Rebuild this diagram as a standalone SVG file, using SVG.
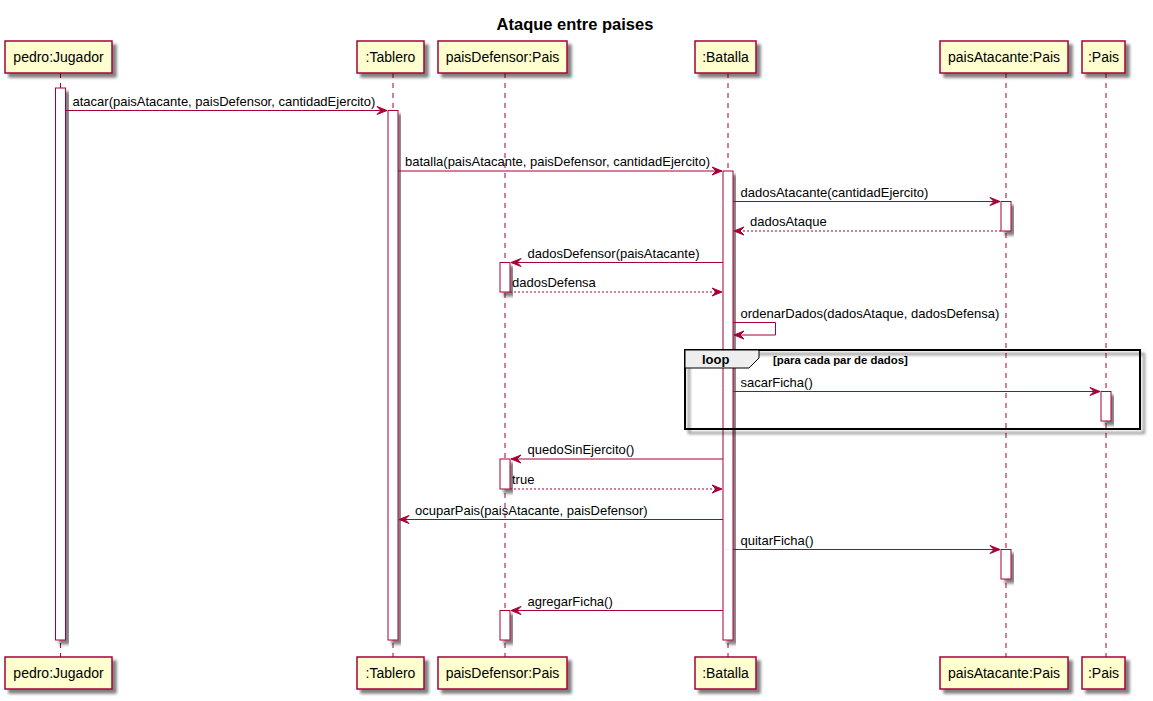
<svg xmlns="http://www.w3.org/2000/svg" width="1153" height="701" viewBox="0 0 1153 701">
<defs>
<filter id="sh" x="-30%" y="-30%" width="160%" height="160%">
<feGaussianBlur in="SourceAlpha" stdDeviation="1.8" result="b"/>
<feOffset in="b" dx="4" dy="4" result="o"/>
<feComponentTransfer in="o" result="s"><feFuncA type="linear" slope="0.5"/></feComponentTransfer>
<feMerge><feMergeNode in="s"/><feMergeNode in="SourceGraphic"/></feMerge>
</filter>
<marker id="arr" markerUnits="userSpaceOnUse" markerWidth="11" markerHeight="9" refX="10" refY="4" orient="auto" overflow="visible">
<path d="M0,0 L10,4 L0,8 L4,4 Z" fill="#A80036" stroke="#A80036" stroke-width="1"/>
</marker>
<style>
.box{fill:#FEFECE;stroke:#A80036;stroke-width:1.5;filter:url(#sh)}
.life{stroke:#A80036;stroke-width:1;stroke-dasharray:5,5;fill:none}
.act{fill:#FFFFFF;stroke:#A80036;stroke-width:1;filter:url(#sh)}
.pt{font-family:"Liberation Sans",Arial,sans-serif;font-size:14px;fill:#000;text-anchor:middle}
.msg{stroke:#A80036;stroke-width:1;fill:none;marker-end:url(#arr)}
.ret{stroke:#A80036;stroke-width:1;fill:none;stroke-dasharray:2,2;marker-end:url(#arr)}
.lbl{font-family:"Liberation Sans",Arial,sans-serif;font-size:13px;fill:#000}
.title{font-family:"Liberation Sans",Arial,sans-serif;font-size:16.5px;font-weight:bold;fill:#000;text-anchor:middle}
</style>
</defs>
<rect width="1153" height="701" fill="#FFFFFF"/>
<text class="title" x="575" y="30">Ataque entre paises</text>

<g id="pedro">
<line class="life" x1="60.5" y1="73" x2="60.5" y2="657"/>
<rect class="box" x="5" y="41" width="107" height="32"/>
<text class="pt" x="58.5" y="62">pedro:Jugador</text>
<rect class="box" x="5" y="657" width="107" height="32"/>
<text class="pt" x="58.5" y="678">pedro:Jugador</text>
<rect class="act" x="55.5" y="88" width="10" height="552"/>
</g>

<g id="tablero">
<line class="life" x1="393" y1="73" x2="393" y2="657"/>
<rect class="box" x="357" y="41" width="67" height="32"/>
<text class="pt" x="390.5" y="62">:Tablero</text>
<rect class="box" x="357" y="657" width="67" height="32"/>
<text class="pt" x="390.5" y="678">:Tablero</text>
<rect class="act" x="388" y="110.5" width="10" height="529.5"/>
</g>

<g id="paisDefensor">
<line class="life" x1="505" y1="73" x2="505" y2="657"/>
<rect class="box" x="438" y="41" width="129" height="32"/>
<text class="pt" x="502.5" y="62">paisDefensor:Pais</text>
<rect class="box" x="438" y="657" width="129" height="32"/>
<text class="pt" x="502.5" y="678">paisDefensor:Pais</text>
<rect class="act" x="500" y="262.5" width="10" height="29.5"/>
<rect class="act" x="500" y="459" width="10" height="30"/>
<rect class="act" x="500" y="610.5" width="10" height="29.5"/>
</g>

<g id="batalla">
<line class="life" x1="728" y1="73" x2="728" y2="657"/>
<rect class="box" x="695" y="41" width="61" height="32"/>
<text class="pt" x="725.5" y="62">:Batalla</text>
<rect class="box" x="695" y="657" width="61" height="32"/>
<text class="pt" x="725.5" y="678">:Batalla</text>
<rect class="act" x="723" y="171" width="10" height="469"/>
</g>

<g id="paisAtacante">
<line class="life" x1="1006" y1="73" x2="1006" y2="657"/>
<rect class="box" x="940" y="41" width="128" height="32"/>
<text class="pt" x="1004" y="62">paisAtacante:Pais</text>
<rect class="box" x="940" y="657" width="128" height="32"/>
<text class="pt" x="1004" y="678">paisAtacante:Pais</text>
<rect class="act" x="1001" y="201.5" width="10" height="29.5"/>
<rect class="act" x="1001" y="549.5" width="10" height="29.5"/>
</g>

<g id="pais">
<line class="life" x1="1106" y1="73" x2="1106" y2="657"/>
<rect class="box" x="1082" y="41" width="43" height="32"/>
<text class="pt" x="1103.5" y="62">:Pais</text>
<rect class="box" x="1082" y="657" width="43" height="32"/>
<text class="pt" x="1103.5" y="678">:Pais</text>
<rect class="act" x="1101" y="391.5" width="10" height="29.5"/>
</g>

<g id="loop">
<rect x="685" y="350" width="455" height="79" fill="none" stroke="#000000" stroke-width="2" filter="url(#sh)"/>
<polygon points="685,350 759,350 759,358 749,368 685,368" fill="#EEEEEE" stroke="#000000" stroke-width="1"/>
<text x="702" y="364" font-family="Liberation Sans, Arial, sans-serif" font-size="13" font-weight="bold">loop</text>
<text x="773" y="364" font-family="Liberation Sans, Arial, sans-serif" font-size="11.4" font-weight="bold">[para cada par de dados]</text>
</g>

<g id="connectors">
<line class="msg" x1="65.5" y1="110.5" x2="387" y2="110.5"/>
<text class="lbl" x="72.5" y="105.5">atacar(paisAtacante, paisDefensor, cantidadEjercito)</text>

<line class="msg" x1="398" y1="171" x2="722" y2="171"/>
<text class="lbl" x="405" y="166">batalla(paisAtacante, paisDefensor, cantidadEjercito)</text>

<line class="msg" x1="733" y1="201.5" x2="1000" y2="201.5"/>
<text class="lbl" x="740.5" y="196.5">dadosAtacante(cantidadEjercito)</text>

<line class="ret" x1="1001" y1="231" x2="734" y2="231"/>
<text class="lbl" x="750" y="226">dadosAtaque</text>

<line class="msg" x1="723" y1="262.5" x2="511" y2="262.5"/>
<text class="lbl" x="527.5" y="257.5">dadosDefensor(paisAtacante)</text>

<line class="ret" x1="510" y1="292" x2="722" y2="292"/>
<text class="lbl" x="512" y="287">dadosDefensa</text>

<polyline class="msg" points="733,322.5 775.5,322.5 775.5,335 734,335"/>
<text class="lbl" x="740.5" y="317.5">ordenarDados(dadosAtaque, dadosDefensa)</text>

<line class="msg" x1="733" y1="391.5" x2="1100" y2="391.5"/>
<text class="lbl" x="740.5" y="386.5">sacarFicha()</text>

<line class="msg" x1="723" y1="459" x2="511" y2="459"/>
<text class="lbl" x="527.5" y="454">quedoSinEjercito()</text>

<line class="ret" x1="510" y1="489" x2="722" y2="489"/>
<text class="lbl" x="512" y="484">true</text>

<line class="msg" x1="723" y1="519.5" x2="399" y2="519.5"/>
<text class="lbl" x="415" y="514.5">ocuparPais(paisAtacante, paisDefensor)</text>

<line class="msg" x1="733" y1="549.5" x2="1000" y2="549.5"/>
<text class="lbl" x="740.5" y="544.5">quitarFicha()</text>

<line class="msg" x1="723" y1="610.5" x2="511" y2="610.5"/>
<text class="lbl" x="527.5" y="605.5">agregarFicha()</text>
</g>
</svg>
